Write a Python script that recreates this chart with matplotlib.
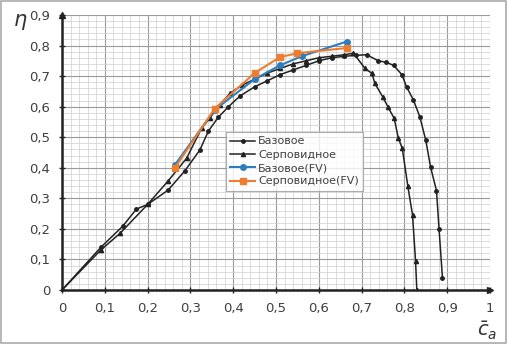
import numpy as np
import matplotlib
matplotlib.use("Agg")
import matplotlib.pyplot as plt
from matplotlib.ticker import MultipleLocator, FuncFormatter

# Базовое (dots)
base_x = [0, 0.091, 0.142, 0.174, 0.2, 0.248, 0.287, 0.322, 0.342, 0.365, 0.389, 0.416,
          0.45, 0.48, 0.51, 0.54, 0.57, 0.6, 0.63, 0.66, 0.688, 0.712, 0.739, 0.758,
          0.775, 0.794, 0.805, 0.821, 0.836, 0.850, 0.861, 0.875, 0.881, 0.889]
base_y = [0, 0.14, 0.209, 0.265, 0.28, 0.327, 0.39, 0.458, 0.52, 0.565, 0.6, 0.635,
          0.665, 0.685, 0.705, 0.72, 0.735, 0.75, 0.76, 0.765, 0.768, 0.77, 0.75, 0.745,
          0.735, 0.705, 0.665, 0.622, 0.567, 0.49, 0.403, 0.325, 0.199, 0.038]

# Серповидное (triangles)
serp_x = [0, 0.09, 0.136, 0.2, 0.248, 0.291, 0.326, 0.345, 0.368, 0.393, 0.42, 0.45,
          0.48, 0.51, 0.54, 0.57, 0.6, 0.63, 0.66, 0.681, 0.708, 0.724, 0.731, 0.749,
          0.762, 0.776, 0.786, 0.795, 0.808, 0.819, 0.826, 0.829]
serp_y = [0, 0.13, 0.186, 0.28, 0.357, 0.431, 0.529, 0.562, 0.605, 0.644, 0.67, 0.69,
          0.71, 0.725, 0.74, 0.75, 0.76, 0.765, 0.77, 0.775, 0.725, 0.709, 0.676, 0.633,
          0.598, 0.562, 0.496, 0.464, 0.34, 0.245, 0.096, 0.0]

# FV variants
base_fv_x = [0.264, 0.357, 0.45, 0.509, 0.56, 0.665]
base_fv_y = [0.41, 0.59, 0.69, 0.735, 0.765, 0.813]
serp_fv_x = [0.264, 0.357, 0.45, 0.509, 0.55, 0.665]
serp_fv_y = [0.40, 0.594, 0.71, 0.762, 0.775, 0.792]

fig = plt.figure(figsize=(5.07, 3.44), dpi=100)
ax = fig.add_axes([62/507, 1-290/344, 428/507, 275/344])

ax.plot(base_x, base_y, color='#222222', lw=1.1, marker='o', ms=2.5, label='Базовое', zorder=3)
ax.plot(serp_x, serp_y, color='#222222', lw=1.1, marker='^', ms=3, label='Серповидное', zorder=3)
ax.plot(base_fv_x, base_fv_y, color='#2e7ebf', lw=1.5, marker='o', ms=4, label='Базовое(FV)', zorder=4)
ax.plot(serp_fv_x, serp_fv_y, color='#ed7d31', lw=1.5, marker='s', ms=4, label='Серповидное(FV)', zorder=4)

ax.set_xlim(0, 1)
ax.set_ylim(0, 0.9)
ax.xaxis.set_major_locator(MultipleLocator(0.1))
ax.yaxis.set_major_locator(MultipleLocator(0.1))
ax.xaxis.set_minor_locator(MultipleLocator(0.02))
ax.yaxis.set_minor_locator(MultipleLocator(0.02))
fmt = FuncFormatter(lambda v, p: ('%g' % round(v, 2)).replace('.', ','))
ax.xaxis.set_major_formatter(fmt)
ax.yaxis.set_major_formatter(fmt)
ax.grid(which='major', color='#9a9a9a', lw=0.8)
ax.grid(which='minor', color='#cfcfcf', lw=0.5)
ax.set_axisbelow(True)

for s in ['top', 'right']:
    ax.spines[s].set_visible(False)
for s in ['left', 'bottom']:
    ax.spines[s].set_linewidth(1.8)
    ax.spines[s].set_color('#222222')
ax.tick_params(which='major', direction='inout', length=5, width=1, colors='#222222',
               labelcolor='#404040', labelsize=9.5, pad=6)
ax.tick_params(which='minor', length=0)

# arrow tips at axis ends
ax.plot([0], [1], marker='^', color='#222222', ms=4, transform=ax.transAxes, clip_on=False)
ax.plot([1], [0], marker='>', color='#222222', ms=4, transform=ax.transAxes, clip_on=False)

fig.text(20/507, 1-22/344, r'$\eta$', fontsize=15, color='#333333', ha='center', va='center')
fig.text(487/507, 1-331/344, r'$\bar{c}_a$', fontsize=14, color='#333333', ha='center', va='center')

leg = ax.legend(loc='upper left', bbox_to_anchor=((226-62)/428, (290-132)/275), fontsize=8,
                frameon=True, fancybox=False, borderpad=0.4, labelspacing=0.3,
                handlelength=2.2, handletextpad=0.3, borderaxespad=0)
leg.get_frame().set_edgecolor('#999999')
leg.get_frame().set_linewidth(0.8)
for t in leg.get_texts():
    t.set_color('#404040')

fig.patches.append(plt.Rectangle((0.002, 0.003), 0.996, 0.994, transform=fig.transFigure,
                                 fill=False, edgecolor='#aaaaaa', lw=1.2))

fig.savefig('out.png', dpi=100)
